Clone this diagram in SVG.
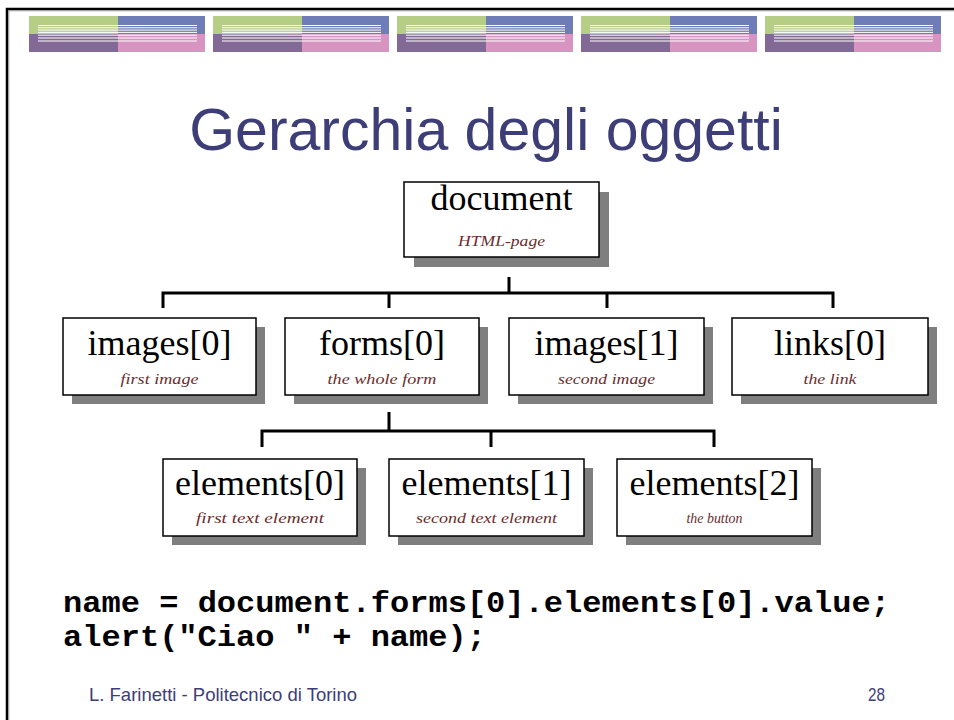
<svg xmlns="http://www.w3.org/2000/svg" width="954" height="720" viewBox="0 0 954 720">
<style>
.g{fill:#B5CD84}.b{fill:#6E7DB5}.p{fill:#836996}.k{fill:#D794C1}
.wl{stroke:#fff;stroke-width:1}
.sh{fill:#7F7F7F}
.bx{fill:#fff;stroke:#000;stroke-width:1.5}
.lbl{font-family:"Liberation Serif","Times New Roman",serif;font-size:36px;fill:#000;text-anchor:middle}
.sub{font-family:"Liberation Serif","Times New Roman",serif;font-style:italic;font-size:14px;fill:#6B2C2C;text-anchor:middle}
.con{fill:none;stroke:#000;stroke-width:3}
.code{font-family:"Liberation Mono","Courier New",monospace;font-weight:bold;font-size:30px;fill:#000}
.foot{font-family:"Liberation Sans",Arial,sans-serif;fill:#3D3D78}
</style>
<defs>
<g id="hb">
<rect class="g" x="0" y="16" width="89" height="18"/>
<rect class="b" x="89" y="16" width="87" height="18"/>
<rect class="p" x="0" y="34" width="89" height="18"/>
<rect class="k" x="89" y="34" width="87" height="18"/>
<path class="wl" d="M9 25.5H168M9 27.8H168M9 30.1H168M9 32.4H168M9 35.2H168M9 38H168M9 41H168"/>
</g>
</defs>
<rect width="954" height="720" fill="#fff"/>
<path d="M7 720V9H954" fill="none" stroke="#000" stroke-width="2.5"/>
<path d="M8.8 720V10.8H954" fill="none" stroke="#9a9a9a" stroke-width="1"/>
<g id="header">
<use href="#hb" x="29"/>
<use href="#hb" x="213"/>
<use href="#hb" x="397"/>
<use href="#hb" x="581"/>
<use href="#hb" x="765"/>
</g>
<text x="486" y="150" font-family="Liberation Sans,Arial,sans-serif" font-size="59" fill="#3D3D78" text-anchor="middle">Gerarchia degli oggetti</text>
<g id="connectors">
<path class="con" d="M509 277V293M163 308V293H833V308M389 293V308M607 293V308"/>
<path class="con" d="M389 412V431M262 447V431H714V447M491 431V447"/>
</g>
<g id="document">
<rect class="sh" x="414" y="192" width="195" height="75"/>
<rect class="bx" x="404" y="182" width="195" height="75"/>
<text class="lbl" x="501.5" y="210">document</text>
<text class="sub" x="501.5" y="246" textLength="87" lengthAdjust="spacingAndGlyphs">HTML-page</text>
</g>
<g id="images0">
<rect class="sh" x="72" y="327" width="193" height="77"/>
<rect class="bx" x="63" y="318" width="193" height="77"/>
<text class="lbl" x="159.5" y="355">images[0]</text>
<text class="sub" x="159.5" y="384" textLength="78" lengthAdjust="spacingAndGlyphs">first image</text>
</g>
<g id="forms0">
<rect class="sh" x="294" y="327" width="194" height="77"/>
<rect class="bx" x="285" y="318" width="194" height="77"/>
<text class="lbl" x="382" y="355">forms[0]</text>
<text class="sub" x="382" y="384" textLength="109" lengthAdjust="spacingAndGlyphs">the whole form</text>
</g>
<g id="images1">
<rect class="sh" x="518" y="327" width="195" height="77"/>
<rect class="bx" x="509" y="318" width="195" height="77"/>
<text class="lbl" x="606.5" y="355">images[1]</text>
<text class="sub" x="606.5" y="384" textLength="97" lengthAdjust="spacingAndGlyphs">second image</text>
</g>
<g id="links0">
<rect class="sh" x="741" y="327" width="196" height="77"/>
<rect class="bx" x="732" y="318" width="196" height="77"/>
<text class="lbl" x="830" y="355">links[0]</text>
<text class="sub" x="830" y="384" textLength="53" lengthAdjust="spacingAndGlyphs">the link</text>
</g>
<g id="elements0">
<rect class="sh" x="172" y="468" width="194" height="77"/>
<rect class="bx" x="163" y="459" width="194" height="77"/>
<text class="lbl" x="260" y="495">elements[0]</text>
<text class="sub" x="260" y="523" textLength="128" lengthAdjust="spacingAndGlyphs">first text element</text>
</g>
<g id="elements1">
<rect class="sh" x="398" y="468" width="195" height="77"/>
<rect class="bx" x="389" y="459" width="195" height="77"/>
<text class="lbl" x="486.5" y="495">elements[1]</text>
<text class="sub" x="486.5" y="523" textLength="141" lengthAdjust="spacingAndGlyphs">second text element</text>
</g>
<g id="elements2">
<rect class="sh" x="626" y="468" width="195" height="77"/>
<rect class="bx" x="617" y="459" width="195" height="77"/>
<text class="lbl" x="714.5" y="495">elements[2]</text>
<text class="sub" x="714.5" y="523" textLength="56" lengthAdjust="spacingAndGlyphs">the button</text>
</g>
<text class="code" x="63" y="612" textLength="827" lengthAdjust="spacingAndGlyphs">name = document.forms[0].elements[0].value;</text>
<text class="code" x="63" y="646" textLength="423" lengthAdjust="spacingAndGlyphs">alert("Ciao " + name);</text>
<text class="foot" x="89" y="701" font-size="18.5">L. Farinetti - Politecnico di Torino</text>
<text class="foot" x="868" y="701" font-size="18" textLength="17" lengthAdjust="spacingAndGlyphs">28</text>
</svg>
